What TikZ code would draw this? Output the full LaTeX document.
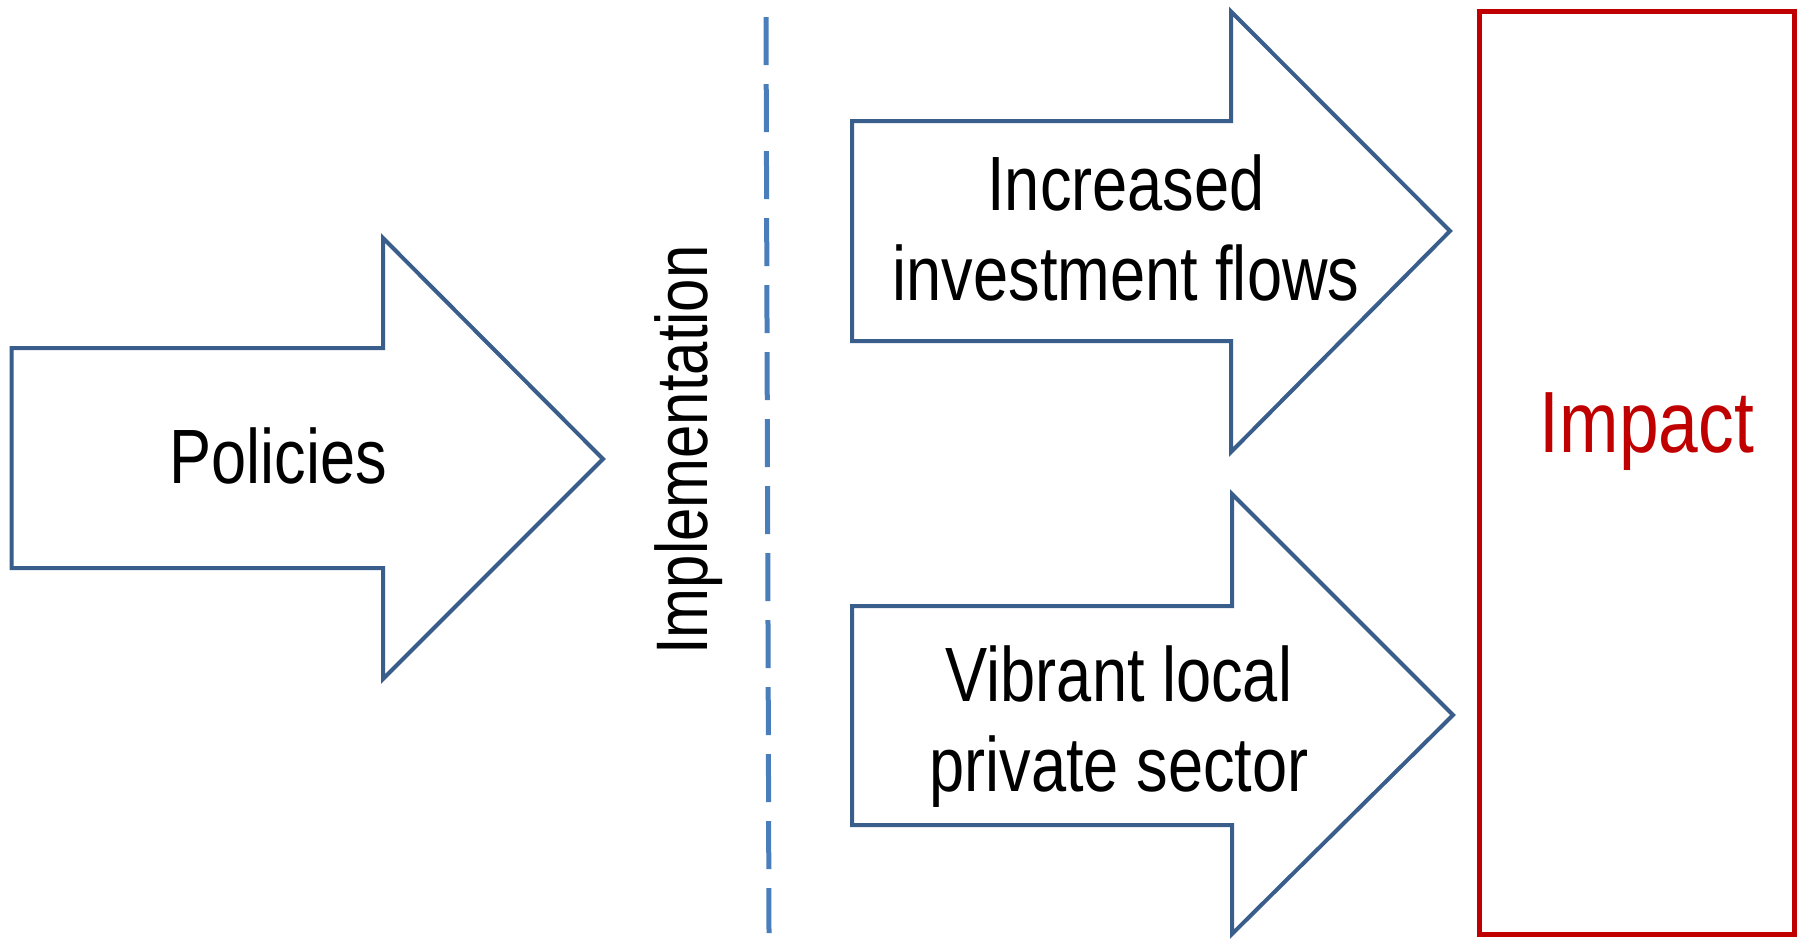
\documentclass[tikz,border=0pt]{standalone}
\usepackage{fontspec}
\setmainfont{Liberation Sans}[FakeStretch=0.82]
\definecolor{arrowblue}{RGB}{58,94,140}
\definecolor{dashblue}{RGB}{74,126,187}
\definecolor{impactred}{RGB}{192,0,0}
\begin{document}
\begin{tikzpicture}[x=0.5pt,y=-0.5pt,
  arrowshape/.style={draw=arrowblue,line width=2pt,line join=miter,fill=white},
  lbl/.style={font=\fontsize{38.5}{45}\selectfont,anchor=base,align=center,inner sep=0pt},
  dashline/.style={draw=dashblue,line width=2.5pt,dash pattern=on 24pt off 9.5pt},
  impactbox/.style={draw=impactred,line width=2.5pt}]
\useasboundingbox (0,0) rectangle (1802,939);
% arrows
\draw[arrowshape] (11.5,348) -- (383,348) -- (383,238) -- (603,459) -- (383,679) -- (383,568) -- (11.5,568) -- cycle;
\draw[arrowshape] (852,121) -- (1231,121) -- (1231,11.5) -- (1450,231) -- (1231,452) -- (1231,341) -- (852,341) -- cycle;
\draw[arrowshape] (852,606) -- (1232,606) -- (1232,494) -- (1453,715) -- (1232,934) -- (1232,825) -- (852,825) -- cycle;
% impact box
\draw[impactbox] (1479,11.5) rectangle (1794,934);
% dashed divider
\coordinate (dtop) at (766,17);
\coordinate (dbot) at (769,933);
\draw[dashline] (dtop) -- (dbot);
% labels
\node[lbl] (pol) at (278,483) {Policies};
\node[lbl] (inv) at (1126,300) {Increased\\investment flows};
\node[lbl] (vib) at (1119,791) {Vibrant local\\private sector};
\node[lbl,font=\fontsize{43.5}{50}\selectfont,text=impactred] (imp) at (1647,452) {Impact};
\node[rotate=90,anchor=base,inner sep=0pt,font=\fontsize{36.5}{42}\selectfont] (impl) at (707,450) {Implementation};
\end{tikzpicture}
\end{document}
